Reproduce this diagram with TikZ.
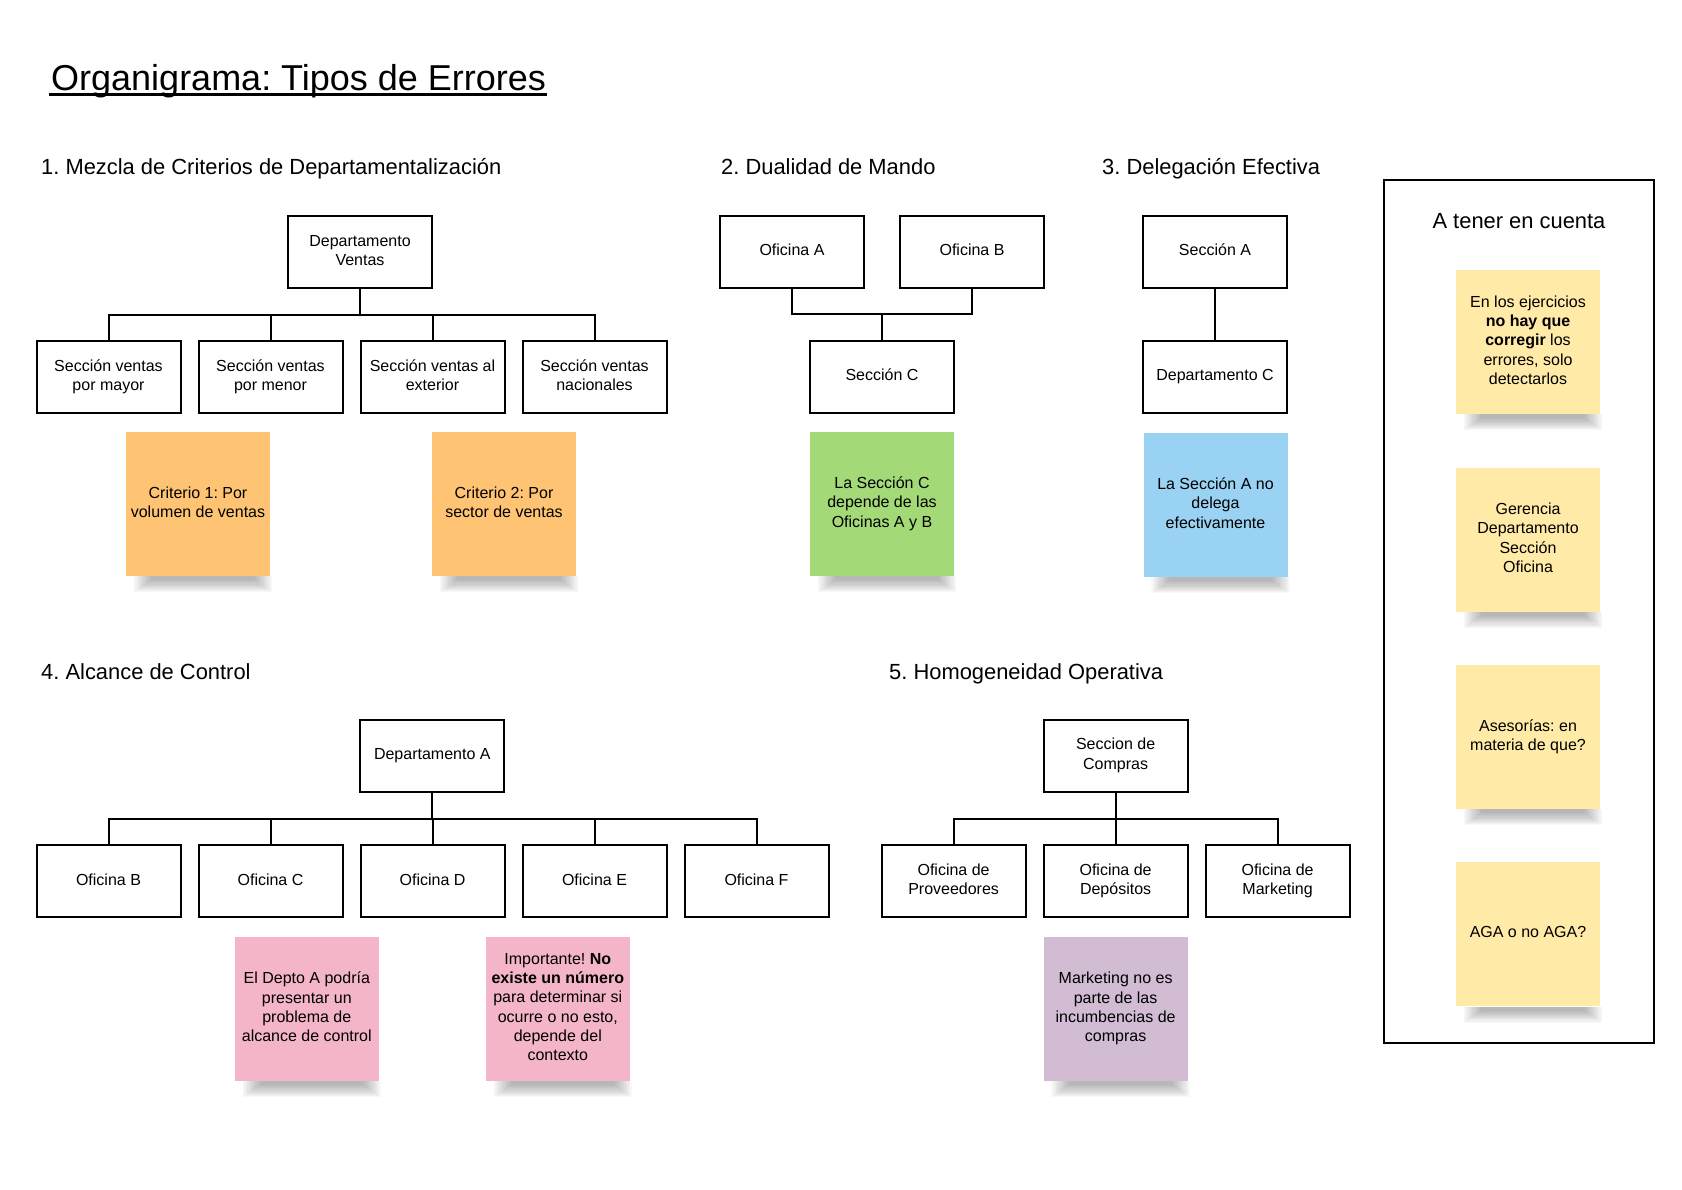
\documentclass[tikz,border=0pt]{standalone}
\usepackage{fontspec}
\setmainfont{Liberation Sans}
\frenchspacing
\usetikzlibrary{calc,positioning}
\definecolor{noteorange}{HTML}{FEC473}
\definecolor{notegreen}{HTML}{A3D977}
\definecolor{noteblue}{HTML}{9AD2F3}
\definecolor{notepink}{HTML}{F4B5C9}
\definecolor{notelilac}{HTML}{D1BCD3}
\definecolor{noteyellow}{HTML}{FFEAA7}

\begin{document}
\begin{tikzpicture}[x=1pt, y=-1pt,
    font=\fontsize{16}{19.3}\selectfont,
    unit/.style={draw=black, line width=2pt, minimum width=144, minimum height=72,
                 inner sep=2pt, align=center, fill=white, text depth=4pt},
    note/.style={minimum width=144, minimum height=144, inner sep=3pt, align=center,
                 text depth=4pt},
    heading/.style={anchor=base west, inner sep=0pt, font=\fontsize{21.9}{26}\selectfont},
    link/.style={line width=2pt}]
  \useasboundingbox (0,0) rectangle (1682,1190);
  % title
  \node[anchor=base west, inner sep=0pt, font=\fontsize{36}{43}\selectfont]
        (title) at (51,90.5) {Organigrama: Tipos de Errores};
  \draw[line width=2.2pt] ($(title.base west)+(-2,4)$) -- ($(title.base east)+(1,4)$);

  % 1. departamentalizacion
  \node[heading] (h1) at (41,175) {1. Mezcla de Criterios de Departamentalización};
  \node[unit] (dv) at (360,252.5) {Departamento\\Ventas};
  \foreach \i/\t in {0/{Sección ventas\\por mayor}, 1/{Sección ventas\\por menor},
                     2/{Sección ventas al\\exterior}, 3/{Sección ventas\\nacionales}}
    \node[unit] (s\i) at (108.5+162*\i, 377) {\t};
  \coordinate (bar1) at (0,315);
  \foreach \i in {0,...,3}
    \draw[link] (dv.south) -- (dv.south |- bar1) -| (s\i.north);
  \node[note, fill=noteorange] (c1) at (198,504) {Criterio 1: Por\\volumen de ventas};
  \node[note, fill=noteorange] (c2) at (504,504) {Criterio 2: Por\\sector de ventas};

  % 2. dualidad
  \node[heading] (h2) at (721,175) {2. Dualidad de Mando};
  \node[unit] (oa) at (792,252) {Oficina A};
  \node[unit] (ob) at (972,252) {Oficina B};
  \node[unit] (sc) at (882,377) {Sección C};
  \coordinate (bar2) at (0,314.5);
  \draw[link] (oa.south) |- (sc.north |- bar2) -| (ob.south);
  \draw[link] (sc.north) -- (sc.north |- bar2);
  \node[note, fill=notegreen] (nc) at (882,504) {La Sección C\\depende de las\\Oficinas A y B};

  % 3. delegacion
  \node[heading] (h3) at (1102,175) {3. Delegación Efectiva};
  \node[unit] (sa) at (1215,252) {Sección A};
  \node[unit] (dc) at (1215,377) {Departamento C};
  \draw[link] (sa.south) -- (dc.north);
  \node[note, fill=noteblue] (na) at (1215.5,505) {La Sección A no\\delega\\efectivamente};

  % a tener en cuenta
  \node[draw, line width=2pt, minimum width=270, minimum height=862.5] (panel) at (1519,611.5) {};
  \node[anchor=base, inner sep=0pt, font=\fontsize{21.9}{26}\selectfont] (ptitle) at (1519,228.5) {A tener en cuenta};
  \foreach \i/\t in {0/{En los ejercicios\\\textbf{no hay que}\\\textbf{corregir} los\\errores, solo\\detectarlos},
                     1/{Gerencia\\Departamento\\Sección\\Oficina},
                     2/{Asesorías: en\\materia de que?},
                     3/{AGA o no AGA?}}
    \node[note, fill=noteyellow] (y\i) at (1528,342.2+197.4*\i) {\t};

  % 4. alcance de control
  \node[heading] (h4) at (41,679) {4. Alcance de Control};
  \node[unit] (da) at (432.3,755.7) {Departamento A};
  \foreach \i/\t in {0/B, 1/C, 2/D, 3/E, 4/F}
    \node[unit] (o\i) at (108.5+162*\i, 881.3) {Oficina \t};
  \coordinate (bar4) at (0,818.5);
  \foreach \i in {0,...,4}
    \draw[link] (da.south) -- (da.south |- bar4) -| (o\i.north);
  \node[note, fill=notepink] (p1) at (306.8,1008.9) {El Depto A podría\\presentar un\\problema de\\alcance de control};
  \node[note, fill=notepink] (p2) at (557.8,1008.9)
        {Importante! \textbf{No}\\\textbf{existe un número}\\para determinar si\\ocurre o no esto,\\depende del\\contexto};

  % 5. homogeneidad
  \node[heading] (h5) at (889,679) {5. Homogeneidad Operativa};
  \node[unit] (sco) at (1115.6,755.7) {Seccion de\\Compras};
  \foreach \i/\t in {0/Proveedores, 1/Depósitos, 2/Marketing}
    \node[unit] (of\i) at (953.6+162*\i, 881.3) {Oficina de\\\t};
  \coordinate (bar5) at (0,818.5);
  \foreach \i in {0,...,2}
    \draw[link] (sco.south) -- (sco.south |- bar5) -| (of\i.north);
  \node[note, fill=notelilac] (m1) at (1115.6,1008.9) {Marketing no es\\parte de las\\incumbencias de\\compras};

  % sombras de las notas
  \foreach \n in {c1,c2,nc,na,p1,p2,m1,y0,y1,y2,y3}
    \foreach \k in {0,...,11}
      \fill[black, opacity=0.028] ([xshift={8+1.6*\k}] \n.south west)
            rectangle ([xshift={2-1.6*\k}, yshift={-16+1.1*\k}] \n.south east);
\end{tikzpicture}
\end{document}
